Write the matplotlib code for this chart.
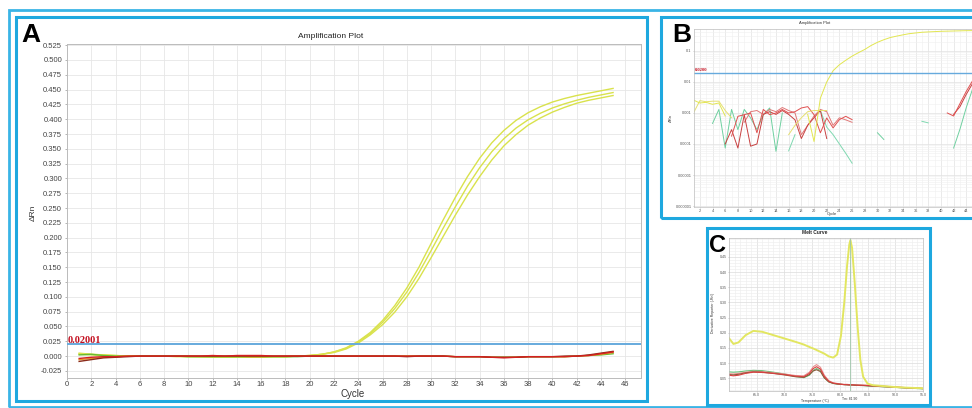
import numpy as np
import matplotlib
matplotlib.use("Agg")
import matplotlib.pyplot as plt
from matplotlib.patches import Rectangle
from matplotlib.ticker import FixedLocator, MultipleLocator, FixedFormatter, NullFormatter, LogLocator

plt.rcParams['font.family'] = ['Liberation Sans', 'DejaVu Sans']
nan = np.nan

# ---------------- Panel A data (linear amplification plot) ----------------
cycles = list(range(1, 46))
threshold_A = 0.02001
yel_A1 = [0.004, 0.003, 0.002, 0.001, 0.000, 0.000, 0.000, 0.000, 0.000, -0.001,
          -0.001, -0.001, -0.002, -0.002, -0.002, -0.002, -0.001, -0.001, 0.000, 0.001,
          0.003, 0.007, 0.014, 0.025, 0.040, 0.060, 0.085, 0.115, 0.150, 0.190,
          0.230, 0.268, 0.303, 0.334, 0.360, 0.381, 0.398, 0.411, 0.421, 0.429,
          0.435, 0.440, 0.444, 0.448, 0.452]
yel_A2 = [0.003, 0.002, 0.001, 0.000, 0.000, 0.000, 0.000, 0.000, 0.000, 0.000,
          -0.001, -0.001, -0.001, -0.002, -0.002, -0.001, -0.001, -0.001, 0.000, 0.001,
          0.003, 0.007, 0.013, 0.024, 0.038, 0.057, 0.080, 0.108, 0.141, 0.178,
          0.216, 0.252, 0.287, 0.318, 0.345, 0.367, 0.385, 0.399, 0.410, 0.419,
          0.426, 0.432, 0.437, 0.441, 0.445]
yel_A3 = [0.005, 0.003, 0.002, 0.001, 0.000, 0.000, 0.000, 0.000, -0.001, -0.001,
          -0.001, -0.002, -0.002, -0.002, -0.002, -0.002, -0.001, -0.001, 0.000, 0.001,
          0.003, 0.006, 0.012, 0.022, 0.036, 0.053, 0.074, 0.100, 0.131, 0.166,
          0.202, 0.238, 0.272, 0.303, 0.331, 0.355, 0.374, 0.390, 0.402, 0.412,
          0.420, 0.427, 0.432, 0.436, 0.440]
green_A = [0.002, 0.003, 0.001, 0.000, 0.000, 0.000, 0.000, 0.000, 0.000, -0.001,
           -0.001, -0.001, -0.001, -0.001, -0.001, -0.001, -0.001, -0.001, -0.001, 0.000,
           0.000, 0.000, 0.000, 0.000, 0.000, 0.000, 0.000, 0.000, 0.000, 0.000,
           0.000, -0.001, -0.001, -0.001, -0.002, -0.002, -0.002, -0.001, -0.001, -0.001,
           -0.001, 0.000, 0.001, 0.002, 0.004]
orange_A = [-0.006, -0.004, -0.002, -0.001, 0.000, 0.000, 0.000, 0.000, 0.000, 0.000,
            0.000, 0.000, 0.000, 0.000, -0.001, -0.001, 0.000, 0.000, 0.000, 0.000,
            0.000, 0.000, 0.000, 0.000, 0.000, 0.000, 0.000, 0.000, 0.000, 0.000,
            0.000, -0.001, -0.001, -0.001, -0.002, -0.002, -0.002, -0.001, -0.001, -0.001,
            -0.001, 0.000, 0.001, 0.003, 0.006]
red_A = [-0.004, -0.002, -0.001, -0.001, 0.000, 0.000, 0.000, 0.000, 0.000, 0.000,
         0.000, 0.001, 0.000, 0.001, 0.001, 0.001, 0.000, 0.000, 0.000, 0.000,
         0.000, 0.000, 0.000, 0.000, 0.000, 0.000, 0.000, 0.000, 0.000, 0.000,
         0.000, -0.001, -0.001, -0.001, -0.002, -0.003, -0.002, -0.001, -0.001, -0.001,
         -0.001, 0.000, 0.001, 0.004, 0.007]
darkred_A = [-0.009, -0.006, -0.003, -0.002, -0.001, 0.000, 0.000, 0.000, 0.000, 0.000,
             0.000, 0.000, 0.000, 0.000, 0.000, 0.000, 0.000, 0.000, 0.000, 0.000,
             0.000, 0.000, 0.000, 0.000, 0.000, 0.000, 0.000, -0.001, 0.000, 0.000,
             0.000, -0.001, -0.001, -0.001, -0.002, -0.002, -0.002, -0.001, -0.001, -0.001,
             0.000, 0.000, 0.002, 0.005, 0.008]
A_xticks = list(range(0, 48, 2))
A_yticks = [-0.025, 0.000, 0.025, 0.050, 0.075, 0.100, 0.125, 0.150, 0.175, 0.200, 0.225,
            0.250, 0.275, 0.300, 0.325, 0.350, 0.375, 0.400, 0.425, 0.450, 0.475, 0.500, 0.525]

# ---------------- Panel B data (log amplification plot) ----------------
threshold_B = 0.0200
B_yel1 = ([0.0026, 0.0021, 0.0022, 0.0019, 0.0021, 0.0008] + [nan] * 12 +
          [0.0009, 0.00012, 0.003, 0.010, 0.023, 0.036, 0.050, 0.068, 0.088, 0.112,
           0.150, 0.190, 0.230, 0.270, 0.300, 0.330, 0.360, 0.380, 0.400, 0.410,
           0.420, 0.430, 0.435, 0.440, 0.445, 0.450, 0.452])
B_yel2 = ([0.0010, 0.0025, 0.0023, 0.0024, 0.0024, 0.0012, 0.0007] + [nan] * 8 +
          [0.0002, 0.0004, 0.0007, 0.0011, 0.0012, 0.0012, 0.0012] + [nan] * 23)
B_red1 = ([nan] * 6 +
          [1.8e-4, 7.8e-4, 8.8e-4, 1.0e-3, 2.3e-4, 1.3e-3, 8.8e-4, 1.0e-3, 1.3e-3, 1.0e-3,
           1.1e-3, 1.45e-3, 1.6e-3, 8.8e-4, 2.3e-4, 6.9e-4, 3.3e-4, 6.1e-4, 7.8e-4, 6.1e-4] +
          [nan] * 14 + [1.0e-3, 8.0e-4, 2.0e-3, 5.0e-3, 1.1e-2])
B_red2 = ([nan] * 5 +
          [1.0e-4, 2.9e-4, 7.4e-5, 8.8e-4, 8.5e-5, 1.0e-4, 9e-4, 1.1e-3, 9e-4, 1.2e-3,
           9e-4, 6e-4, 1.5e-4, 4e-4, 7e-4, 1.2e-3, 1.5e-4] +
          [nan] * 19 + [9e-4, 1.6e-3, 4e-3, 9e-3])
B_pink = ([nan] * 8 +
          [5e-4, 1.1e-3, 1.2e-3, 9e-4, 1.3e-3, 1.1e-3, 1.5e-3, 1.2e-3, 1.0e-3, 2e-4,
           4e-4, 8e-4, 1.3e-3, 1.1e-3, 4e-4, 7e-4, 6e-4, 5e-4] + [nan] * 19)
B_teal1 = ([nan] * 3 +
           [4.6e-4, 1.3e-3, 7.4e-5, 1.3e-3, 2.9e-4, 1.3e-3, 6.9e-4, 2.9e-4, 8.8e-4, 1.45e-3,
            5.8e-5, 1.0e-3] + [nan] * 14 + [2.3e-4, 1.4e-4] + [nan] * 10 +
           [7.4e-5, 3e-4, 1.5e-3, 6e-3])
B_teal2 = ([nan] * 15 + [6e-5, 2e-4] + [nan] * 3 +
           [1.2e-3, 3.5e-4, 2e-4, 1e-4, 5e-5, 2.4e-5] + [nan] * 10 +
           [5.4e-4, 4.8e-4] + [nan] * 7)
B_xticks = list(range(2, 46, 2))
B_yticks = [1e-6, 1e-5, 1e-4, 1e-3, 1e-2, 1e-1]
B_ylabels = ["0.000001", "0.00001", "0.0001", "0.001", "0.01", "0.1"]

# ---------------- Panel C data (melt curve) ----------------
melt_temp = [60, 60.8, 61.7, 63, 64.4, 66, 68, 70, 72, 73.5, 74.5, 75.2, 75.8, 76.5, 77.2,
             78, 78.8, 79.5, 80.2, 80.8, 81.3, 81.7, 81.9, 82.2, 82.7, 83.2, 83.7, 84.2,
             85, 86, 88, 90, 92, 95]
melt_yellow = [0.182, 0.163, 0.168, 0.192, 0.206, 0.203, 0.192, 0.181, 0.170, 0.161, 0.153,
               0.148, 0.143, 0.137, 0.131, 0.122, 0.118, 0.128, 0.190, 0.300, 0.420, 0.490,
               0.505, 0.480, 0.360, 0.220, 0.110, 0.055, 0.032, 0.027, 0.024, 0.021, 0.019, 0.017]
melt_pink = [0.065, 0.064, 0.066, 0.070, 0.073, 0.072, 0.068, 0.064, 0.059, 0.058, 0.070,
             0.088, 0.095, 0.086, 0.060, 0.042, 0.035, 0.033, 0.031, 0.030, 0.030, 0.029,
             0.029, 0.029, 0.028, 0.028, 0.028, 0.027, 0.027, 0.026, 0.024, 0.021, 0.019, 0.017]
melt_green = [0.071, 0.070, 0.071, 0.074, 0.076, 0.075, 0.070, 0.064, 0.056, 0.052, 0.060,
              0.076, 0.082, 0.075, 0.052, 0.038, 0.033, 0.031, 0.030, 0.029, 0.029, 0.028,
              0.028, 0.028, 0.027, 0.027, 0.027, 0.026, 0.025, 0.024, 0.022, 0.020, 0.018, 0.015]
melt_red = [0.060, 0.058, 0.060, 0.066, 0.070, 0.069, 0.066, 0.062, 0.057, 0.055, 0.066,
            0.082, 0.088, 0.080, 0.056, 0.040, 0.034, 0.032, 0.030, 0.029, 0.029, 0.028,
            0.028, 0.028, 0.028, 0.027, 0.027, 0.027, 0.026, 0.025, 0.023, 0.021, 0.019, 0.016]
melt_brown = [0.062, 0.061, 0.063, 0.068, 0.071, 0.070, 0.066, 0.061, 0.055, 0.053, 0.062,
              0.074, 0.078, 0.072, 0.051, 0.038, 0.033, 0.031, 0.030, 0.029, 0.028, 0.028,
              0.028, 0.028, 0.027, 0.027, 0.026, 0.026, 0.025, 0.024, 0.022, 0.020, 0.018, 0.016]
Tm = 81.9
C_xticks = [65, 70, 75, 80, 85, 90, 95]
C_yticks = [0.05, 0.10, 0.15, 0.20, 0.25, 0.30, 0.35, 0.40, 0.45]

# ---------------- figure & helpers ----------------
W, H = 972, 408
fig = plt.figure(figsize=(W / 100, H / 100), dpi=100)
fig.patch.set_facecolor('white')


def fx(x):
    return x / W


def fy(y):
    return 1 - y / H


def axrect(l, t, r, b):
    return [fx(l), fy(b), (r - l) / W, (b - t) / H]


def frame(l, t, r, b, color, lw):
    fig.add_artist(Rectangle((fx(l), fy(b)), (r - l) / W, (b - t) / H,
                             transform=fig.transFigure, fill=False, ec=color, lw=lw, zorder=5))


YEL = '#d9e24c'
BLUE_T = '#66aadd'

# ---------------- Panel A ----------------
axA = fig.add_axes(axrect(67, 44, 641, 378))
for ser, col in [(yel_A1, YEL), (yel_A2, YEL), (yel_A3, YEL)]:
    axA.plot(cycles, ser, color=col, lw=1.0, zorder=2)
for ser, col in [(green_A, '#66bb33'), (orange_A, '#e89a2a'), (darkred_A, '#8a2a1a'),
                 (red_A, '#d42020')]:
    axA.plot(cycles, ser, color=col, lw=1.0, zorder=3)
axA.axhline(threshold_A, color=BLUE_T, lw=1.4, zorder=4)
axA.text(0.05, 0.0192, f"{threshold_A:.5f}", color='#c41020', fontsize=7.5,
         family='Liberation Serif', weight='bold', ha='left', va='bottom', zorder=5)
axA.set_xlim(0, 47.3)
axA.set_ylim(-0.037, 0.527)
axA.xaxis.set_major_locator(FixedLocator(A_xticks))
axA.yaxis.set_major_locator(FixedLocator(A_yticks))
axA.set_yticklabels([f"{v:.3f}" for v in A_yticks])
axA.tick_params(labelsize=5.5, labelcolor='#444444', color='#999999', length=1.6, width=0.5)
axA.tick_params(axis='x', pad=0.8)
axA.tick_params(axis='y', pad=2.0)
axA.grid(True, color='#e6e6e6', lw=0.6, zorder=0)
for s in axA.spines.values():
    s.set_color('#bbbbbb')
    s.set_linewidth(0.7)
fig.text(fx(331), fy(37), "Amplification Plot", fontsize=6, color='#222222', ha='center', va='center')
fig.text(fx(353), fy(394), "Cycle", fontsize=7, color='#333333', ha='center', va='center')
fig.text(fx(33), fy(213), "ΔRn", fontsize=6, color='#333333', rotation=90, ha='center', va='center')
fig.text(fx(21), fy(42), "A", fontsize=19, weight='bold', color='black', ha='left', va='baseline', zorder=6)

# ---------------- Panel B ----------------
axB = fig.add_axes(axrect(693.5, 29, 972, 207))
axB.set_yscale('log')
for ser, col in [(B_teal1, '#6fd0a0'), (B_teal2, '#7fd8b0'), (B_pink, '#e07878'),
                 (B_red2, '#c84040'), (B_red1, '#e05050'), (B_yel2, '#e6e070'), (B_yel1, '#e2e650')]:
    axB.plot(cycles, ser, color=col, lw=0.7)
axB.axhline(threshold_B, color=BLUE_T, lw=1.0)
axB.text(1.15, threshold_B * 1.05, f"{threshold_B:.4f}", color='#c41020', fontsize=3.3,
         family='Liberation Serif', weight='bold', ha='left', va='bottom')
axB.set_xlim(1, 44.9)
axB.set_ylim(9.3e-7, 0.51)
axB.xaxis.set_major_locator(FixedLocator(B_xticks))
axB.xaxis.set_minor_locator(MultipleLocator(1))
axB.yaxis.set_major_locator(FixedLocator(B_yticks))
axB.yaxis.set_major_formatter(FixedFormatter(B_ylabels))
axB.yaxis.set_minor_locator(LogLocator(base=10, subs=(2, 3, 4, 5, 6, 7, 8, 9)))
axB.yaxis.set_minor_formatter(NullFormatter())
axB.tick_params(which='both', labelsize=2.8, labelcolor='#555555', color='#aaaaaa',
                length=0.8, width=0.4, pad=0.6)
axB.tick_params(which='minor', length=0)
axB.grid(True, which='major', color='#e2e2e2', lw=0.5)
axB.grid(True, which='minor', color='#f0f0f0', lw=0.4)
for s in axB.spines.values():
    s.set_color('#c0c0c0')
    s.set_linewidth(0.5)
axB.spines['right'].set_visible(False)
fig.text(fx(815), fy(23), "Amplification Plot", fontsize=3, color='#333333', ha='center', va='center')
fig.text(fx(832), fy(214), "Cycle", fontsize=3, color='#333333', ha='center', va='center')
fig.text(fx(671), fy(118), "ΔRn", fontsize=3, color='#333333', rotation=90, ha='center', va='center')
fig.text(fx(672), fy(42), "B", fontsize=19, weight='bold', color='black', ha='left', va='baseline', zorder=6)

# ---------------- Panel C ----------------
axC = fig.add_axes(axrect(729, 238, 923, 391))
for ser, col in [(melt_green, '#66c27a'), (melt_pink, '#e89090'), (melt_brown, '#8a5a3a'),
                 (melt_red, '#d84040')]:
    axC.plot(melt_temp, ser, color=col, lw=0.8)
axC.plot(melt_temp, melt_yellow, color='#e2e660', lw=1.4)
axC.axvline(Tm, color='#9cc4a8', lw=0.6)
axC.set_xlim(60, 95)
axC.set_ylim(0.008, 0.512)
axC.xaxis.set_major_locator(FixedLocator(C_xticks))
axC.set_xticklabels([f"{v:.1f}" for v in C_xticks])
axC.xaxis.set_minor_locator(MultipleLocator(1))
axC.yaxis.set_major_locator(FixedLocator(C_yticks))
axC.set_yticklabels([f"{v:.2f}" for v in C_yticks])
axC.yaxis.set_minor_locator(MultipleLocator(0.01))
axC.tick_params(which='both', labelsize=2.6, labelcolor='#555555', color='#aaaaaa',
                length=0.8, width=0.4, pad=0.6)
axC.tick_params(which='minor', length=0)
axC.grid(True, which='major', color='#dcdcdc', lw=0.5)
axC.grid(True, which='minor', color='#ededed', lw=0.4)
for s in axC.spines.values():
    s.set_color('#bbbbbb')
    s.set_linewidth(0.5)
fig.text(fx(815), fy(233), "Melt Curve", fontsize=3.5, weight='bold', color='#222222', ha='center', va='center')
fig.text(fx(815), fy(401), "Temperature (°C)", fontsize=2.6, color='#333333', ha='center', va='center')
fig.text(fx(850), fy(398.5), f"Tm: {Tm:.2f}", fontsize=2.4, color='#333333', ha='center', va='center')
fig.text(fx(713), fy(313), "Derivative Reporter (-Rn')", fontsize=2.5, color='#333333', rotation=90,
         ha='center', va='center')
fig.text(fx(709), fy(251.5), "C", fontsize=17, weight='bold', color='black', ha='left', va='baseline', zorder=6)

# ---------------- frames ----------------
frame(8.5, 9.5, 990, 406.5, '#3ab4e6', 2.0)
frame(15.5, 16.5, 647, 400.5, '#1ea8df', 2.2)
frame(661, 16.5, 990, 218, '#1ea8df', 2.2)
frame(707, 228, 930, 404.5, '#1ea8df', 2.2)

fig.savefig("out.png", dpi=100)
